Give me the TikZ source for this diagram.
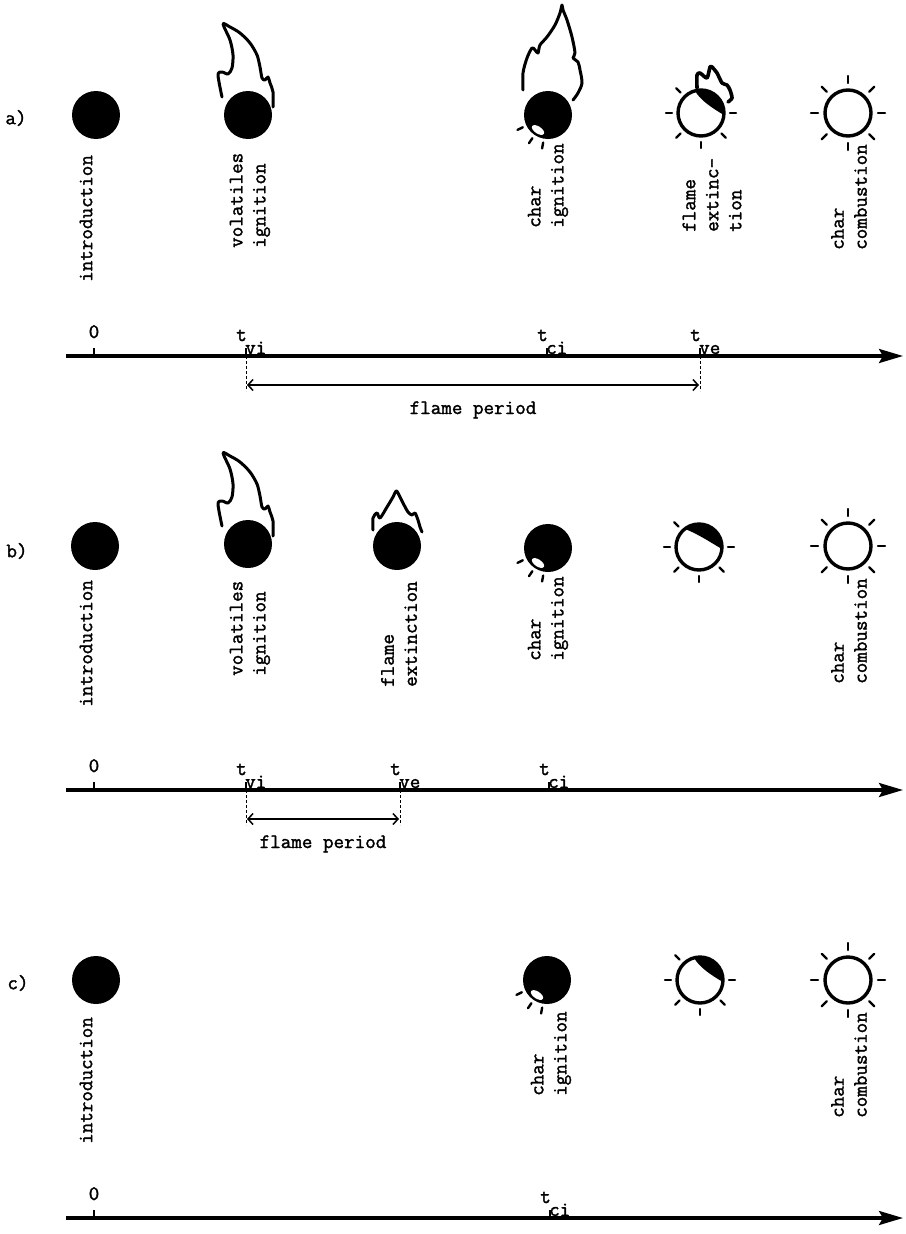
\documentclass[tikz,border=0pt]{standalone}
\usepackage{fontspec}
\newfontfamily\typer[FakeBold=1.6]{Latin Modern Mono}
\usetikzlibrary{arrows.meta}
\tikzset{
  txt/.style={font=\typer\fontsize{20.5}{23}\selectfont, inner sep=0pt},
  vlabel/.style={txt, rotate=90, anchor=west, align=left},
  ink/.style={line width=3pt, line cap=round, line join=round},
  ray/.style={line width=2.4pt, line cap=round},
  timeaxis/.style={line width=3.2pt, -{Stealth[length=24pt,width=14pt,inset=4pt]}},
  tickmark/.style={line width=2.4pt},
  guide/.style={line width=0.9pt, dash pattern=on 3pt off 2pt},
  span/.style={line width=1.5pt, {Straight Barb[length=5pt,width=11pt]}-{Straight Barb[length=5pt,width=11pt]}},
  % solid particle
  pics/coal/.style={code={\fill (0,0) circle[radius=24];}},
  % particle with a glowing spot on its lower left
  pics/glowcoal/.style={code={
    \fill (0,0) circle[radius=24];
    \fill[white, rotate around={-34:(-10,15)}] (-10,15) ellipse[x radius=7, y radius=3.5];
    \foreach \a in {154,124,100}{\draw[ray] (\a:28) -- (\a:34);}
  }},
  % burning char shell, partly dark on top
  pics/shell/.style={code={
    \draw[ink, line width=3.4pt] (0,0) circle[radius=23];
    \fill (#1:23) arc[start angle=#1, end angle=365, radius=23]
      .. controls (11,-5) and (-1,-13) .. cycle;
    \foreach \a in {225,180,135,90,45,0}{\draw[ray] (\a:29) -- (\a:35);}
  }},
  % glowing char, all round
  pics/glow/.style={code={
    \draw[ink, line width=3.4pt] (0,0) circle[radius=23];
    \foreach \a in {0,45,...,315}{\draw[ray] (\a:30) -- (\a:37);}
  }},
  % tall volatiles flame
  pics/bigflame/.style={code={
    \draw[ink] plot[smooth, tension=0.5] coordinates {
      (-26,-18) (-30,-40) (-26,-43) (-20,-41) (-16,-47) (-15,-60) (-18,-75) (-25,-91)
      (-18,-88) (-8,-82) (2,-72) (9,-60) (12,-48) (14,-37) (17,-35) (20,-38)
      (22,-32) (25,-23) (25,-8)};
  }},
  % tall flame leaning over the igniting char
  pics/leanflame/.style={code={
    \draw[ink] plot[smooth, tension=0.5] coordinates {
      (-25,-25) (-25,-42) (-21,-57) (-16,-67) (-13,-65) (-10,-62) (-8,-70) (-1,-78)
      (7,-90) (12,-102) (14,-110) (15,-105) (19,-95) (24,-78) (27,-62) (25,-57)
      (30,-53) (32,-45) (34,-32) (30,-22) (25,-15)};
  }},
  % small dying flame
  pics/smallflame/.style={code={
    \draw[ink] plot[smooth, tension=0.5] coordinates {
      (-24,-16) (-24,-28) (-20,-33) (-17,-28) (-10,-39) (-4,-49) (-1,-55) (1,-53)
      (6,-43) (11,-34) (15,-31) (18,-33) (21,-26) (23,-19) (25,-14)};
  }},
  % flame remnant on the shoulder of the shell
  pics/tipflame/.style={code={
    \draw[ink, line width=3.6pt] plot[smooth, tension=0.4] coordinates {
      (-4,-25) (-4,-38) (-1,-40) (6,-35) (9,-46) (11,-46) (16,-40) (21,-30)
      (26,-28) (29,-23) (31,-15) (27,-11)};
  }},
}
\begin{document}
\begin{tikzpicture}[x=1pt,y=-1pt]
\useasboundingbox (0,0) rectangle (905,1234);

% ---------------- case a ----------------
\node[txt] (tag-a) at (16,118) {a)};
\pic (a-intro) at (96,115) {coal};
\pic (a-vi) at (248,115) {coal};
\pic (a-vi-f) at (248,115) {bigflame};
\pic (a-ci) at (548,115) {glowcoal};
\pic (a-ci-f) at (548,115) {leanflame};
\pic (a-ve) at (701,113) {shell=255};
\pic (a-ve-f) at (701,113) {tipflame};
\pic (a-cc) at (848,113) {glow};

\node[vlabel] (a-intro-lbl) at (86,282) {introduction};
\node[vlabel] (a-vi-lbl) at (250,248) {volatiles\\ignition};
\node[vlabel] (a-ci-lbl) at (548,228) {char\\ignition};
\node[vlabel] (a-ve-lbl) at (712,232) {flame\\extinc-\\tion};
\node[vlabel] (a-cc-lbl) at (849,250) {char\\combustion};

\coordinate (a-start) at (66,356);
\coordinate (a-end) at (903,356);
\coordinate (a-t0) at (94,356);
\coordinate (a-tvi) at (246,356);
\coordinate (a-tci) at (547,356);
\coordinate (a-tve) at (700,356);
\draw[timeaxis] (a-start) -- (a-end);
\foreach \p in {a-t0,a-tvi,a-tci,a-tve}{\draw[tickmark] (\p) -- ++(0,-8);}
\node[txt, anchor=base] (a-l0) at (94,338) {0};
\node[txt, anchor=base east] (a-lt1) at (247,341) {t};
\node[txt, anchor=base west] (a-ls1) at (245,354) {vi};
\node[txt, anchor=base east] (a-lt2) at (548,341) {t};
\node[txt, anchor=base west] (a-ls2) at (546,354) {ci};
\node[txt, anchor=base east] (a-lt3) at (701,341) {t};
\node[txt, anchor=base west] (a-ls3) at (699,354) {ve};
\coordinate (a-g1) at (246,391);
\coordinate (a-g2) at (700,391);
\draw[guide] (a-tvi) -- (a-g1);
\draw[guide] (a-tve) -- (a-g2);
\coordinate (a-s1) at (247,385);
\coordinate (a-s2) at (699,385);
\draw[span] (a-s1) -- (a-s2);
\node[txt, anchor=base] (a-period) at (473,414) {flame period};

% ---------------- case b ----------------
\node[txt] (tag-b) at (17,551) {b)};
\pic (b-intro) at (95,546) {coal};
\pic (b-vi) at (248,544) {coal};
\pic (b-vi-f) at (248,544) {bigflame};
\pic (b-ve) at (397,546) {coal};
\pic (b-ve-f) at (397,546) {smallflame};
\pic (b-ci) at (548,548) {glowcoal};
\pic (b-sh) at (699,547) {shell=232};
\pic (b-cc) at (848,546) {glow};

\node[vlabel] (b-intro-lbl) at (86,707) {introduction};
\node[vlabel] (b-vi-lbl) at (250,676) {volatiles\\ignition};
\node[vlabel] (b-ve-lbl) at (399,687) {flame\\extinction};
\node[vlabel] (b-ci-lbl) at (548,661) {char\\ignition};
\node[vlabel] (b-cc-lbl) at (849,684) {char\\combustion};

\coordinate (b-start) at (66,790);
\coordinate (b-end) at (903,790);
\coordinate (b-t0) at (94,790);
\coordinate (b-tvi) at (246,790);
\coordinate (b-tve) at (400,790);
\coordinate (b-tci) at (549,790);
\draw[timeaxis] (b-start) -- (b-end);
\foreach \p in {b-t0,b-tvi,b-tve,b-tci}{\draw[tickmark] (\p) -- ++(0,-8);}
\node[txt, anchor=base] (b-l0) at (94,772) {0};
\node[txt, anchor=base east] (b-lt1) at (247,775) {t};
\node[txt, anchor=base west] (b-ls1) at (245,788) {vi};
\node[txt, anchor=base east] (b-lt2) at (401,775) {t};
\node[txt, anchor=base west] (b-ls2) at (399,788) {ve};
\node[txt, anchor=base east] (b-lt3) at (550,775) {t};
\node[txt, anchor=base west] (b-ls3) at (548,788) {ci};
\coordinate (b-g1) at (246,825);
\coordinate (b-g2) at (400,825);
\draw[guide] (b-tvi) -- (b-g1);
\draw[guide] (b-tve) -- (b-g2);
\coordinate (b-s1) at (247,819);
\coordinate (b-s2) at (399,819);
\draw[span] (b-s1) -- (b-s2);
\node[txt, anchor=base] (b-period) at (323,848) {flame period};

% ---------------- case c ----------------
\node[txt] (tag-c) at (18,983) {c)};
\pic (c-intro) at (96,980) {coal};
\pic (c-ci) at (547,980) {glowcoal};
\pic (c-sh) at (700,980) {shell=255};
\pic (c-cc) at (848,980) {glow};

\node[vlabel] (c-intro-lbl) at (86,1144) {introduction};
\node[vlabel] (c-ci-lbl) at (551,1096) {char\\ignition};
\node[vlabel] (c-cc-lbl) at (849,1118) {char\\combustion};

\coordinate (c-start) at (66,1218);
\coordinate (c-end) at (903,1218);
\coordinate (c-t0) at (94,1218);
\coordinate (c-tci) at (550,1218);
\draw[timeaxis] (c-start) -- (c-end);
\foreach \p in {c-t0,c-tci}{\draw[tickmark] (\p) -- ++(0,-8);}
\node[txt, anchor=base] (c-l0) at (94,1200) {0};
\node[txt, anchor=base east] (c-lt1) at (551,1203) {t};
\node[txt, anchor=base west] (c-ls1) at (549,1216) {ci};
\end{tikzpicture}
\end{document}
